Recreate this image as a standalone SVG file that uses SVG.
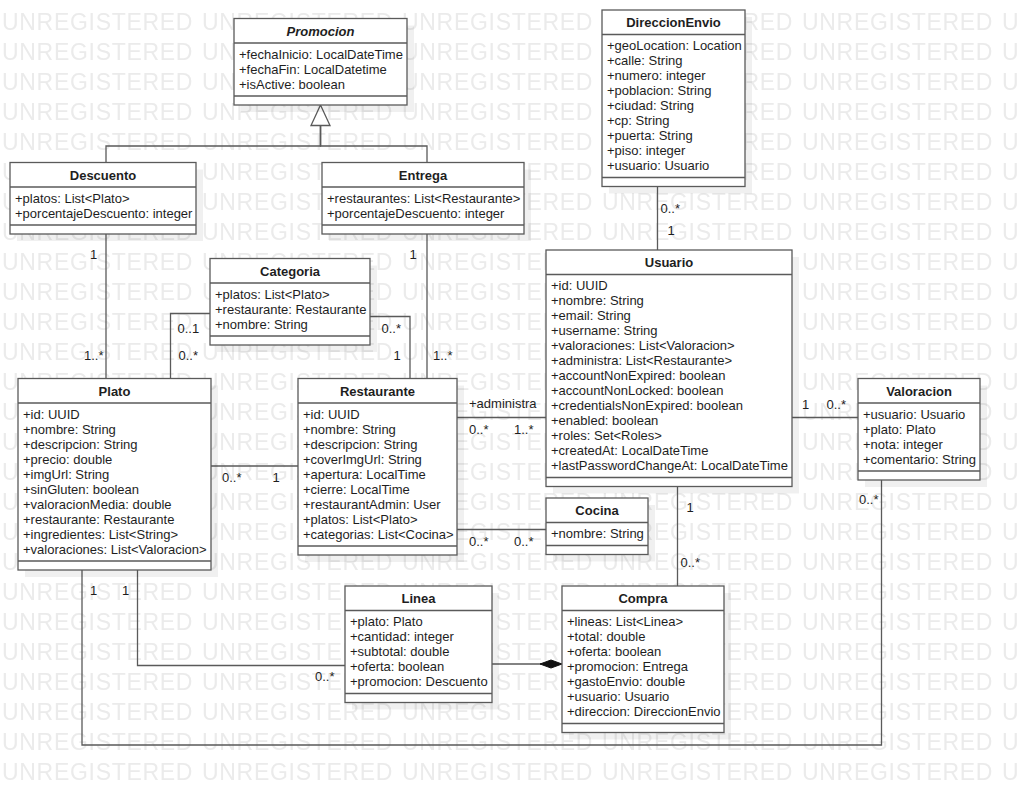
<svg xmlns="http://www.w3.org/2000/svg" width="1020" height="787" viewBox="0 0 1020 787">
<style>
.bg{fill:#fff}
.wm{font-family:"Liberation Sans",Arial,sans-serif;font-size:23px;letter-spacing:0.7px;fill:#ebebeb}
.shadow{fill:#000;opacity:0.06}
.box{fill:#fff;stroke:#5a5a5a;stroke-width:1.3}
.sep{stroke:#5a5a5a;stroke-width:1.3}
.title{font-family:"Liberation Sans",Arial,sans-serif;font-size:13px;font-weight:bold;text-anchor:middle;fill:#1e1e1e}
.attr{font-family:"Liberation Sans",Arial,sans-serif;font-size:13px;fill:#1e1e1e}
.ln{fill:none;stroke:#5a5a5a;stroke-width:1.3}
.lbl{font-family:"Liberation Sans",Arial,sans-serif;font-size:13px;fill:#1e1e1e}
</style>
<defs>
<pattern id="wmp" x="0" y="0" width="200" height="30" patternUnits="userSpaceOnUse">
<text class="wm" x="2" y="29.5">UNREGISTERED</text>
</pattern>
</defs>
<rect class="bg" x="0" y="0" width="1020" height="787"/>
<rect x="0" y="0" width="1020" height="787" fill="url(#wmp)"/>

<g id="connectors">
<path class="ln" d="M106,162.5 V146 H320.5 V125.5"/>
<path class="ln" d="M427,162.5 V146 H320.5 V125.5"/>
<path class="ln" d="M320.5,146 V125.5" stroke-width="2.2"/>
<polygon points="320.5,105 311,125.5 330,125.5" fill="#fff" stroke="#5a5a5a" stroke-width="1.3"/>
<path class="ln" d="M106,234 V378.5"/>
<path class="ln" d="M427,234 V378.5"/>
<path class="ln" d="M210,313.5 H170.5 V378.5"/>
<path class="ln" d="M370,316.5 H410 V378.5"/>
<path class="ln" d="M211,466 H298"/>
<path class="ln" d="M457,417.5 H546"/>
<path class="ln" d="M457,529.5 H546"/>
<path class="ln" d="M657.5,186.5 V250"/>
<path class="ln" d="M792,417.5 H858"/>
<path class="ln" d="M677.5,486.5 V586"/>
<path class="ln" d="M881.5,480 V745 H82 V570"/>
<path class="ln" d="M137.5,570 V665.5 H345"/>
<path class="ln" d="M492,664 H541"/>
<polygon points="562,664 551,660 540,664 551,668" fill="#111" stroke="#111" stroke-width="1"/>
<text class="lbl" x="90" y="258.5">1</text>
<text class="lbl" x="84" y="359.5">1..*</text>
<text class="lbl" x="409.5" y="258.5">1</text>
<text class="lbl" x="433" y="359.5">1..*</text>
<text class="lbl" x="177.5" y="332.5">0..1</text>
<text class="lbl" x="178.5" y="359.5">0..*</text>
<text class="lbl" x="381.5" y="332.5">0..*</text>
<text class="lbl" x="393.5" y="359.5">1</text>
<text class="lbl" x="469" y="408">+administra</text>
<text class="lbl" x="469" y="433.5">0..*</text>
<text class="lbl" x="514" y="433.5">1..*</text>
<text class="lbl" x="222" y="482">0..*</text>
<text class="lbl" x="272.5" y="482">1</text>
<text class="lbl" x="469" y="545.5">0..*</text>
<text class="lbl" x="514" y="545.5">0..*</text>
<text class="lbl" x="660.5" y="213">0..*</text>
<text class="lbl" x="667.5" y="234.5">1</text>
<text class="lbl" x="802" y="409">1</text>
<text class="lbl" x="826.5" y="409">0..*</text>
<text class="lbl" x="686.5" y="512">1</text>
<text class="lbl" x="680.5" y="567">0..*</text>
<text class="lbl" x="859" y="504">0..*</text>
<text class="lbl" x="90" y="595">1</text>
<text class="lbl" x="122" y="595">1</text>
<text class="lbl" x="315" y="681">0..*</text>
</g>

<g id="Promocion">
<rect class="shadow" x="241" y="25.5" width="173" height="86.5"/>
<rect class="box" x="234" y="18.5" width="173" height="86.5"/>
<line class="sep" x1="234" y1="43" x2="407" y2="43"/>
<line class="sep" x1="234" y1="96" x2="407" y2="96"/>
<text class="title" x="320.5" y="35.5" font-style="italic">Promocion</text>
<text class="attr" x="239" y="58.5">+fechaInicio: LocalDateTime</text>
<text class="attr" x="239" y="73.5">+fechaFin: LocalDatetime</text>
<text class="attr" x="239" y="88.5">+isActive: boolean</text>
</g>

<g id="DireccionEnvio">
<rect class="shadow" x="609" y="17" width="143" height="176.5"/>
<rect class="box" x="602" y="10" width="143" height="176.5"/>
<line class="sep" x1="602" y1="34.5" x2="745" y2="34.5"/>
<line class="sep" x1="602" y1="177.5" x2="745" y2="177.5"/>
<text class="title" x="673.5" y="27">DireccionEnvio</text>
<text class="attr" x="607" y="50">+geoLocation: Location</text>
<text class="attr" x="607" y="65">+calle: String</text>
<text class="attr" x="607" y="80">+numero: integer</text>
<text class="attr" x="607" y="95">+poblacion: String</text>
<text class="attr" x="607" y="110">+ciudad: String</text>
<text class="attr" x="607" y="125">+cp: String</text>
<text class="attr" x="607" y="140">+puerta: String</text>
<text class="attr" x="607" y="155">+piso: integer</text>
<text class="attr" x="607" y="170">+usuario: Usuario</text>
</g>

<g id="Descuento">
<rect class="shadow" x="17" y="169.5" width="186" height="71.5"/>
<rect class="box" x="10" y="162.5" width="186" height="71.5"/>
<line class="sep" x1="10" y1="187" x2="196" y2="187"/>
<line class="sep" x1="10" y1="225" x2="196" y2="225"/>
<text class="title" x="103" y="179.5">Descuento</text>
<text class="attr" x="15" y="202.5">+platos: List&lt;Plato&gt;</text>
<text class="attr" x="15" y="217.5">+porcentajeDescuento: integer</text>
</g>

<g id="Entrega">
<rect class="shadow" x="329" y="169.5" width="202" height="71.5"/>
<rect class="box" x="322" y="162.5" width="202" height="71.5"/>
<line class="sep" x1="322" y1="187" x2="524" y2="187"/>
<line class="sep" x1="322" y1="225" x2="524" y2="225"/>
<text class="title" x="423" y="179.5">Entrega</text>
<text class="attr" x="327" y="202.5">+restaurantes: List&lt;Restaurante&gt;</text>
<text class="attr" x="327" y="217.5">+porcentajeDescuento: integer</text>
</g>

<g id="Categoria">
<rect class="shadow" x="217" y="265.5" width="160" height="86.5"/>
<rect class="box" x="210" y="258.5" width="160" height="86.5"/>
<line class="sep" x1="210" y1="283" x2="370" y2="283"/>
<line class="sep" x1="210" y1="336" x2="370" y2="336"/>
<text class="title" x="290" y="275.5">Categoria</text>
<text class="attr" x="215" y="298.5">+platos: List&lt;Plato&gt;</text>
<text class="attr" x="215" y="313.5">+restaurante: Restaurante</text>
<text class="attr" x="215" y="328.5">+nombre: String</text>
</g>

<g id="Usuario">
<rect class="shadow" x="553" y="257" width="246" height="236.5"/>
<rect class="box" x="546" y="250" width="246" height="236.5"/>
<line class="sep" x1="546" y1="274.5" x2="792" y2="274.5"/>
<line class="sep" x1="546" y1="477.5" x2="792" y2="477.5"/>
<text class="title" x="669" y="267">Usuario</text>
<text class="attr" x="551" y="290">+id: UUID</text>
<text class="attr" x="551" y="305">+nombre: String</text>
<text class="attr" x="551" y="320">+email: String</text>
<text class="attr" x="551" y="335">+username: String</text>
<text class="attr" x="551" y="350">+valoraciones: List&lt;Valoracion&gt;</text>
<text class="attr" x="551" y="365">+administra: List&lt;Restaurante&gt;</text>
<text class="attr" x="551" y="380">+accountNonExpired: boolean</text>
<text class="attr" x="551" y="395">+accountNonLocked: boolean</text>
<text class="attr" x="551" y="410">+credentialsNonExpired: boolean</text>
<text class="attr" x="551" y="425">+enabled: boolean</text>
<text class="attr" x="551" y="440">+roles: Set&lt;Roles&gt;</text>
<text class="attr" x="551" y="455">+createdAt: LocalDateTime</text>
<text class="attr" x="551" y="470">+lastPasswordChangeAt: LocalDateTime</text>
</g>

<g id="Plato">
<rect class="shadow" x="25" y="385.5" width="193" height="191.5"/>
<rect class="box" x="18" y="378.5" width="193" height="191.5"/>
<line class="sep" x1="18" y1="403" x2="211" y2="403"/>
<line class="sep" x1="18" y1="561" x2="211" y2="561"/>
<text class="title" x="114.5" y="395.5">Plato</text>
<text class="attr" x="23" y="418.5">+id: UUID</text>
<text class="attr" x="23" y="433.5">+nombre: String</text>
<text class="attr" x="23" y="448.5">+descripcion: String</text>
<text class="attr" x="23" y="463.5">+precio: double</text>
<text class="attr" x="23" y="478.5">+imgUrl: String</text>
<text class="attr" x="23" y="493.5">+sinGluten: boolean</text>
<text class="attr" x="23" y="508.5">+valoracionMedia: double</text>
<text class="attr" x="23" y="523.5">+restaurante: Restaurante</text>
<text class="attr" x="23" y="538.5">+ingredientes: List&lt;String&gt;</text>
<text class="attr" x="23" y="553.5">+valoraciones: List&lt;Valoracion&gt;</text>
</g>

<g id="Restaurante">
<rect class="shadow" x="305" y="385.5" width="159" height="176.5"/>
<rect class="box" x="298" y="378.5" width="159" height="176.5"/>
<line class="sep" x1="298" y1="403" x2="457" y2="403"/>
<line class="sep" x1="298" y1="546" x2="457" y2="546"/>
<text class="title" x="377.5" y="395.5">Restaurante</text>
<text class="attr" x="303" y="418.5">+id: UUID</text>
<text class="attr" x="303" y="433.5">+nombre: String</text>
<text class="attr" x="303" y="448.5">+descripcion: String</text>
<text class="attr" x="303" y="463.5">+coverImgUrl: String</text>
<text class="attr" x="303" y="478.5">+apertura: LocalTime</text>
<text class="attr" x="303" y="493.5">+cierre: LocalTime</text>
<text class="attr" x="303" y="508.5">+restaurantAdmin: User</text>
<text class="attr" x="303" y="523.5">+platos: List&lt;Plato&gt;</text>
<text class="attr" x="303" y="538.5">+categorias: List&lt;Cocina&gt;</text>
</g>

<g id="Valoracion">
<rect class="shadow" x="865" y="385.5" width="122" height="101.5"/>
<rect class="box" x="858" y="378.5" width="122" height="101.5"/>
<line class="sep" x1="858" y1="403" x2="980" y2="403"/>
<line class="sep" x1="858" y1="471" x2="980" y2="471"/>
<text class="title" x="919" y="395.5">Valoracion</text>
<text class="attr" x="863" y="418.5">+usuario: Usuario</text>
<text class="attr" x="863" y="433.5">+plato: Plato</text>
<text class="attr" x="863" y="448.5">+nota: integer</text>
<text class="attr" x="863" y="463.5">+comentario: String</text>
</g>

<g id="Cocina">
<rect class="shadow" x="553" y="505" width="102" height="56.5"/>
<rect class="box" x="546" y="498" width="102" height="56.5"/>
<line class="sep" x1="546" y1="522.5" x2="648" y2="522.5"/>
<line class="sep" x1="546" y1="545.5" x2="648" y2="545.5"/>
<text class="title" x="597" y="515">Cocina</text>
<text class="attr" x="551" y="538">+nombre: String</text>
</g>

<g id="Linea">
<rect class="shadow" x="352" y="593" width="147" height="116.5"/>
<rect class="box" x="345" y="586" width="147" height="116.5"/>
<line class="sep" x1="345" y1="610.5" x2="492" y2="610.5"/>
<line class="sep" x1="345" y1="693.5" x2="492" y2="693.5"/>
<text class="title" x="418.5" y="603">Linea</text>
<text class="attr" x="350" y="626">+plato: Plato</text>
<text class="attr" x="350" y="641">+cantidad: integer</text>
<text class="attr" x="350" y="656">+subtotal: double</text>
<text class="attr" x="350" y="671">+oferta: boolean</text>
<text class="attr" x="350" y="686">+promocion: Descuento</text>
</g>

<g id="Compra">
<rect class="shadow" x="569" y="593" width="162" height="146.5"/>
<rect class="box" x="562" y="586" width="162" height="146.5"/>
<line class="sep" x1="562" y1="610.5" x2="724" y2="610.5"/>
<line class="sep" x1="562" y1="723.5" x2="724" y2="723.5"/>
<text class="title" x="643" y="603">Compra</text>
<text class="attr" x="567" y="626">+lineas: List&lt;Linea&gt;</text>
<text class="attr" x="567" y="641">+total: double</text>
<text class="attr" x="567" y="656">+oferta: boolean</text>
<text class="attr" x="567" y="671">+promocion: Entrega</text>
<text class="attr" x="567" y="686">+gastoEnvio: double</text>
<text class="attr" x="567" y="701">+usuario: Usuario</text>
<text class="attr" x="567" y="716">+direccion: DireccionEnvio</text>
</g>
</svg>
